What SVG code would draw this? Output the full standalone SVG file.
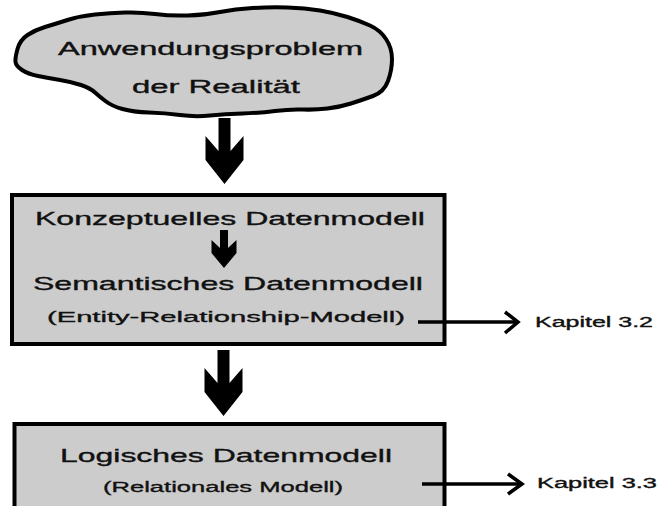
<svg xmlns="http://www.w3.org/2000/svg" width="661" height="506" viewBox="0 0 661 506">
  <style>
    .lbl { font-family: "Liberation Sans", Arial, sans-serif; fill: #111; stroke: #111; stroke-width: 0.35; }
    .shape { fill: #cccccc; stroke: #000; stroke-width: 4; }
    .link { fill: none; stroke: #000; stroke-width: 3.5; }
    .solid { fill: #000; stroke: none; }
  </style>
  <defs>
    <!-- notched block arrow pointing down, origin at top centre of the shaft -->
    <path id="bigArrow" d="M-6,0 H6 V33 L19,18 V42 L0,66 L-19,42 V18 L-6,33 Z"/>
  </defs>

  <!-- problem of the real world (cloud) -->
  <g id="problem">
    <path class="shape" d="M15.5,62 Q15,58 17.5,49 Q20,40 27.5,35 Q35,30 45,27 Q55,24 67.5,20 Q80,16 95,14.5 Q110,13 125,12.5 Q140,12 155,14 Q170,16 187.5,15.5 Q205,15 220,12 Q235,9 252.5,8 Q270,7 287.5,7.5 Q305,8 320,10.5 Q335,13 347.5,17 Q360,21 370,25.5 Q380,30 386,39 Q392,48 392,59 Q392,70 388,81 Q384,92 373,96 Q362,100 351,103.5 Q340,107 327.5,108.5 Q315,110 302.5,109.5 Q290,109 275,111 Q260,113 242.5,113.5 Q225,114 210,115.5 Q195,117 180,115 Q165,113 149,112.5 Q133,112 122.5,109 Q112,106 106,101.5 Q100,97 95,92.5 Q90,88 81,85 Q72,82 60,80 Q48,78 38,76 Q28,74 22,70 Q16,66 15.5,62 Z"/>
    <text class="lbl" x="58" y="55" font-size="17.5" textLength="305" lengthAdjust="spacingAndGlyphs">Anwendungsproblem</text>
    <text class="lbl" x="132" y="93" font-size="18" textLength="168" lengthAdjust="spacingAndGlyphs">der Realität</text>
  </g>

  <!-- conceptual / semantic data model -->
  <g id="conceptual">
    <rect class="shape" x="12" y="195" width="432.5" height="149"/>
    <text class="lbl" x="35" y="225" font-size="18.5" textLength="390" lengthAdjust="spacingAndGlyphs">Konzeptuelles Datenmodell</text>
    <path class="solid" d="M-4,0 H4 V18 L12.5,10 V23 L0,38 L-12.5,23 V10 L-4,18 Z" transform="translate(224,230)"/>
    <text class="lbl" x="33" y="290" font-size="18.5" textLength="390" lengthAdjust="spacingAndGlyphs">Semantisches Datenmodell</text>
    <text class="lbl" x="47" y="322" font-size="15.5" textLength="358" lengthAdjust="spacingAndGlyphs">(Entity-Relationship-Modell)</text>
  </g>

  <!-- logical data model -->
  <g id="logical">
    <rect class="shape" x="14.5" y="424" width="430" height="86"/>
    <text class="lbl" x="60" y="462" font-size="19" textLength="332" lengthAdjust="spacingAndGlyphs">Logisches Datenmodell</text>
    <text class="lbl" x="103" y="492" font-size="15.5" textLength="240" lengthAdjust="spacingAndGlyphs">(Relationales Modell)</text>
  </g>

  <!-- chapter references -->
  <g id="chapter32">
    <text class="lbl" x="535" y="327" font-size="14" textLength="118" lengthAdjust="spacingAndGlyphs">Kapitel 3.2</text>
  </g>
  <g id="chapter33">
    <text class="lbl" x="537" y="488" font-size="14" textLength="120" lengthAdjust="spacingAndGlyphs">Kapitel 3.3</text>
  </g>

  <!-- connectors -->
  <g id="connectors">
    <use href="#bigArrow" class="solid" transform="translate(224.5,118)"/>
    <use href="#bigArrow" class="solid" transform="translate(223.5,350)"/>
    <path class="link" d="M418,322 H516"/>
    <path class="link" d="M505,312 L518,322 L505,333"/>
    <path class="link" d="M422,484 H520"/>
    <path class="link" d="M508,474 L522,484 L508,494"/>
  </g>
</svg>
